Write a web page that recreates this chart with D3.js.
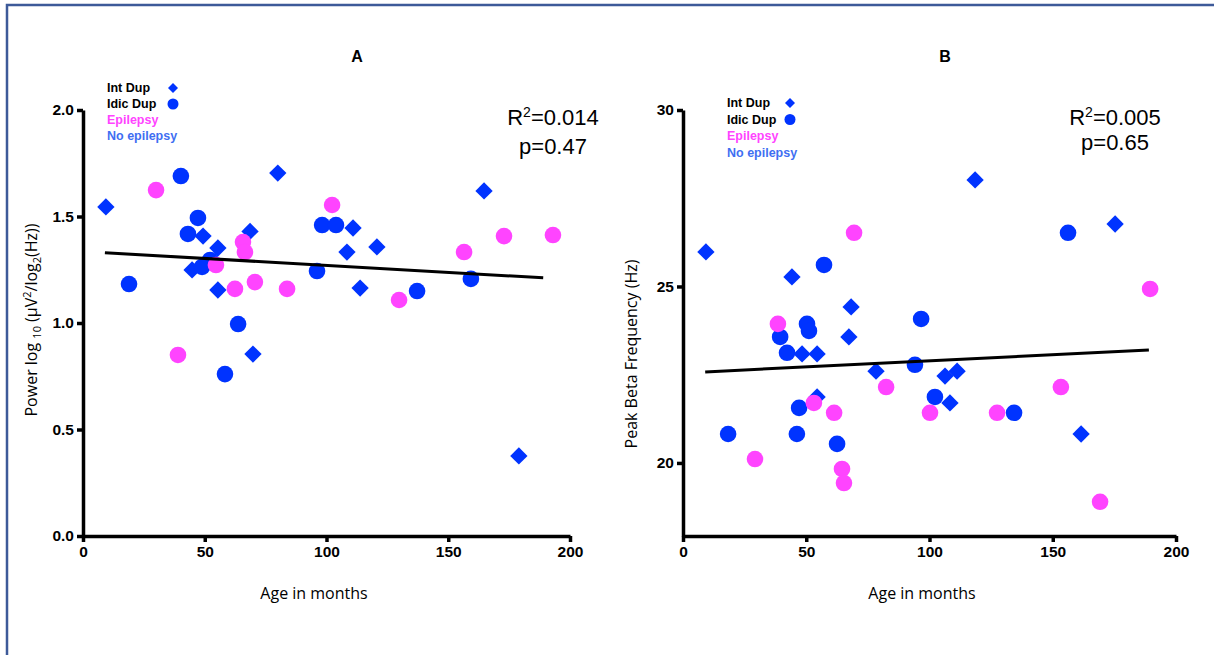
<!DOCTYPE html>
<html><head><meta charset="utf-8">
<script src="https://cdn.jsdelivr.net/npm/d3@7"></script>
<style>body{margin:0;background:#fff}svg{display:block}</style>
</head><body>
<svg id="c" width="1214" height="655"></svg>
<script>
// ---- data ----
const xTicks = [0, 50, 100, 150, 200];
const yTicksA = [0, 0.5, 1.0, 1.5, 2.0];
const yTicksB = [20, 25, 30];

// Panel A: [age, power]
const aIntDup = [[9.4,1.545],[80,1.704],[49.3,1.408],[68.6,1.43],[55.4,1.352],[44.8,1.249],[55.4,1.155],[69.8,0.854],[164.7,1.62],[110.9,1.446],[108.4,1.333],[120.7,1.357],[113.8,1.164],[179,0.376]];
const aIdicNoEp = [[40.2,1.69],[47.2,1.493],[43.1,1.418],[18.9,1.183],[52.2,1.296],[48.9,1.263],[63.7,0.995],[58.3,0.76],[96.1,1.244],[98.2,1.46],[103.9,1.46],[137.2,1.15],[159.3,1.207]];
const aEpilepsy = [[30,1.624],[39,0.85],[65.7,1.38],[66.5,1.333],[54.6,1.272],[62.4,1.16],[70.6,1.192],[83.8,1.16],[102.3,1.554],[129.8,1.108],[156.5,1.333],[172.9,1.408],[193,1.413]];
const aFit = [[9,1.33],[189,1.212]];

// Panel B: [age, peak beta Hz]
const bIntDup = [[9.3,25.98],[44.2,25.27],[68.2,24.42],[67.3,23.57],[48.3,23.09],[54.4,23.09],[78.3,22.6],[54.4,21.87],[118.5,28.02],[175.3,26.77],[106.3,22.46],[111.2,22.6],[108.3,21.7],[161.5,20.82]];
const bIdicNoEp = [[57.2,25.61],[50.3,23.94],[51.1,23.74],[39.4,23.57],[42.2,23.12],[47.1,21.56],[18.3,20.82],[46.2,20.82],[62.5,20.54],[96.6,24.08],[94.1,22.78],[102.2,21.87],[134.3,21.42],[156.2,26.52]];
const bEpilepsy = [[69.4,26.52],[38.5,23.94],[53.1,21.7],[61.3,21.42],[29.2,20.11],[64.5,19.83],[65.3,19.43],[82.4,22.15],[100.2,21.42],[127.4,21.42],[153.3,22.15],[189.5,24.93],[169.2,18.9]];
const bFit = [[9,22.58],[189,23.2]];

const legendLabels = ["Int Dup","Idic Dup","Epilepsy","No epilepsy"];

// ---- drawing ----
const BLUE = "#0033ff", MAG = "#ff44ff", LBLUE = "#3f6ff2";
const svg = d3.select("#c");
svg.append("rect").attr("x",7).attr("y",5).attr("width",1230).attr("height",680)
  .attr("fill","none").attr("stroke","#3d5a99").attr("stroke-width",2.5);

function panel(o){
  const x = d3.scaleLinear().domain([0,200]).range(o.xr);
  const y = d3.scaleLinear().domain(o.yd).range([536,110]);
  const g = svg.append("g");
  // markers
  const diam = d3.symbol().type(d3.symbolSquare).size(150);
  g.selectAll(".dm").data(o.intDup).join("path")
    .attr("d",diam).attr("fill",BLUE)
    .attr("transform",d=>`translate(${x(d[0])},${y(d[1])}) rotate(45)`);
  g.selectAll(".ci").data(o.idic).join("circle")
    .attr("cx",d=>x(d[0])).attr("cy",d=>y(d[1])).attr("r",8.3).attr("fill",BLUE);
  g.selectAll(".ep").data(o.epi).join("circle")
    .attr("cx",d=>x(d[0])).attr("cy",d=>y(d[1])).attr("r",8.3).attr("fill",MAG);
  // fit line
  g.append("path").datum(o.fit)
    .attr("d",d3.line().x(d=>x(d[0])).y(d=>y(d[1])))
    .attr("stroke","#000").attr("stroke-width",3).attr("fill","none");
  // axes
  const ax = g.append("g").attr("transform","translate(0,536)")
    .call(d3.axisBottom(x).tickValues(xTicks).tickSizeInner(6).tickSizeOuter(0).tickPadding(4));
  const ay = g.append("g").attr("transform",`translate(${o.xr[0]},0)`)
    .call(d3.axisLeft(y).tickValues(o.yTicks).tickFormat(o.fmt).tickSizeInner(6).tickSizeOuter(0).tickPadding(3));
  [ax,ay].forEach(a=>{
    a.select(".domain").attr("stroke","#000").attr("stroke-width",3.5);
    a.selectAll(".tick line").attr("stroke","#000").attr("stroke-width",3.5);
    a.selectAll(".tick text").attr("fill","#000")
      .style("font-family","'Liberation Sans',Arial,sans-serif").style("font-size","15.5px").style("font-weight","bold");
  });
  // titles
  g.append("text").attr("x",o.titleX).attr("y",62).attr("text-anchor","middle")
    .style("font-family","'Liberation Sans',Arial,sans-serif").style("font-weight","bold").style("font-size","16px").text(o.title);
  g.append("text").attr("x",o.axX).attr("y",599).attr("text-anchor","middle")
    .style("font-family","'Open Sans',sans-serif").style("font-size","16px").text("Age in months");
  const yt = g.append("text").attr("transform",`translate(${o.ytX},${o.ytY}) rotate(-90)`).attr("text-anchor","middle")
    .style("font-family","'Open Sans',sans-serif").style("font-size","16px");
  o.ytitle(yt);
  // stats
  const st = g.append("text").attr("x",o.statX).attr("y",125).attr("text-anchor","middle")
    .style("font-family","'Liberation Sans',Arial,sans-serif").style("font-size","22px");
  st.append("tspan").text("R");
  st.append("tspan").attr("dy",-8).style("font-size","14px").text("2");
  st.append("tspan").attr("dy",8).text("="+o.r2);
  g.append("text").attr("x",o.statX).attr("y",o.pY).attr("text-anchor","middle")
    .style("font-family","'Liberation Sans',Arial,sans-serif").style("font-size","22px").text("p="+o.p);
  // legend
  const lg = g.append("g").attr("transform",`translate(${o.lx},${o.ly})`);
  const cols = ["#000","#000",MAG,LBLUE];
  legendLabels.forEach((t,i)=>{
    lg.append("text").attr("x",0).attr("y",i*o.lstep).attr("fill",cols[i])
      .style("font-family","'Liberation Sans',Arial,sans-serif").style("font-weight","bold").style("font-size","12.5px").text(t);
  });
  lg.append("path").attr("d",d3.symbol().type(d3.symbolSquare).size(50)).attr("fill",BLUE)
    .attr("transform",`translate(${o.lmx},-4) rotate(45)`);
  lg.append("circle").attr("cx",o.lmx).attr("cy",o.lstep-4).attr("r",5.5).attr("fill",BLUE);
}

panel({xr:[83,570], yd:[0,2], yTicks:yTicksA, fmt:d3.format(".1f"),
  intDup:aIntDup, idic:aIdicNoEp, epi:aEpilepsy, fit:aFit, title:"A", titleX:357, axX:314,
  ytX:37, ytY:320, ytitle:t=>{
    t.append("tspan").text("Power log ");
    t.append("tspan").attr("dy",4).style("font-size","11px").text("10");
    t.append("tspan").attr("dy",-4).text(" (\u00b5V");
    t.append("tspan").attr("dy",-6).style("font-size","11px").text("2");
    t.append("tspan").attr("dy",6).text("/log");
    t.append("tspan").attr("dy",4).style("font-size","11px").text("2");
    t.append("tspan").attr("dy",-4).text("(Hz))");
  },
  statX:553, r2:"0.014", p:"0.47", pY:154, lx:107, ly:92, lstep:16, lmx:66});

panel({xr:[683,1176], yd:[17.93,30], yTicks:yTicksB, fmt:d3.format("d"),
  intDup:bIntDup, idic:bIdicNoEp, epi:bEpilepsy, fit:bFit, title:"B", titleX:945, axX:922,
  ytX:637, ytY:354, ytitle:t=>t.text("Peak Beta Frequency (Hz)"),
  statX:1115, r2:"0.005", p:"0.65", pY:150, lx:727, ly:107, lstep:16.5, lmx:63});
</script>
</body></html>
